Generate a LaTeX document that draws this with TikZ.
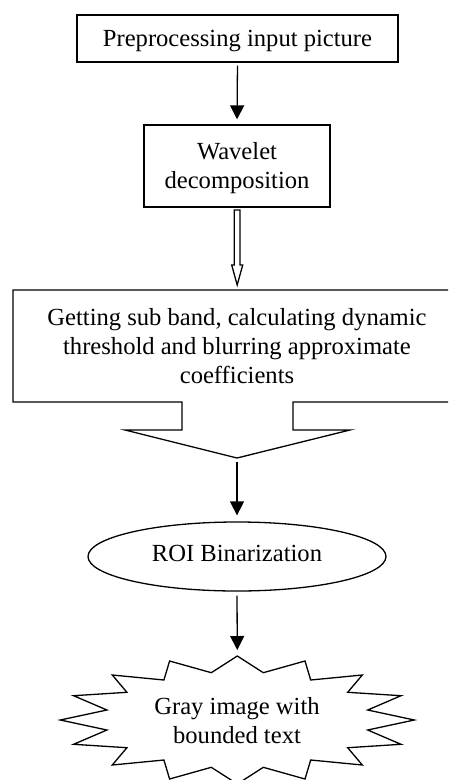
\documentclass[tikz,border=0pt]{standalone}
\usepackage{fontspec}
\setmainfont{Liberation Serif}
\usetikzlibrary{arrows.meta,shapes.geometric}
\begin{document}
\begin{tikzpicture}[x=1pt,y=-1pt, line width=1.3pt,
  txt/.style={align=center, font=\fontsize{24.6}{29}\selectfont},
  box/.style={draw, line width=1.3pt, inner sep=0pt, txt},
  arr/.style={-{Triangle[width=14pt,length=14pt]}, line width=1.3pt},
  shapeline/.style={draw, line width=1.3pt, line join=miter}]
\useasboundingbox (0,0) rectangle (448,780);
\clip (0,0) rectangle (448,780);
% top box
\node[box, minimum width=321pt, minimum height=47pt] (pre) at (237.5,38.5) {};
\node[txt, anchor=base] (pret) at (237.5,46.7) {Preprocessing input picture};
% wavelet box
\node[box, minimum width=186pt, minimum height=82pt] (wav) at (237,166) {};
\node[txt, anchor=base] (wavt) at (237,188) {Wavelet\\decomposition};
% hollow arrow
\path[shapeline] (234.3,210) -- (234.3,265) -- (231.7,265) -- (237.2,285) -- (242.7,265) -- (240,265) -- (240,210) -- cycle;
% callout box
\path[shapeline] (13,290) -- (470,290) -- (470,402) -- (293,402) -- (293,430) -- (350,430) -- (237,458) -- (125,430) -- (182,430) -- (182,402) -- (13,402) -- cycle;
\coordinate (ctip) at (237,458);
\node[txt, anchor=base] (cb) at (237,383) {Getting sub band, calculating dynamic\\threshold and blurring approximate\\coefficients};
% ellipse
\node[draw, ellipse, line width=1.3pt, minimum width=298pt, minimum height=69pt, inner sep=0pt] (roi) at (237,556.5) {};
\node[txt, anchor=base] (roit) at (237,561) {ROI Binarization};
% star
\path[shapeline] (237.3,656) -- (263.3,672.7) -- (305,661) -- (310.7,680) -- (362.3,675) -- (347.7,692.3) -- (401,695.7) -- (367.7,710) -- (414.3,720) -- (367.7,730) -- (401,744.3) -- (347.7,747.7) -- (362.3,765) -- (310.7,760) -- (305,779) -- (263.3,767.3) -- (237.3,784) -- (211.3,767.3) -- (169.6,779) -- (163.9,760) -- (112.3,765) -- (126.9,747.7) -- (73.6,744.3) -- (106.9,730) -- (60.3,720) -- (106.9,710) -- (73.6,695.7) -- (126.9,692.3) -- (112.3,675) -- (163.9,680) -- (169.6,661) -- (211.3,672.7) -- cycle;
\coordinate (startop) at (237.3,656);
\node[txt, anchor=base] (gray) at (237,743) {Gray image with\\bounded text};
% arrows
\draw[arr, shorten <=3pt, shorten >=5pt] (pre.south) -- (wav.north);
\draw[arr, shorten <=4pt, shorten >=6pt] (ctip) -- (roi.north);
\draw[arr, shorten <=4pt, shorten >=6pt] (roi.south) -- (startop);
\end{tikzpicture}
\end{document}
